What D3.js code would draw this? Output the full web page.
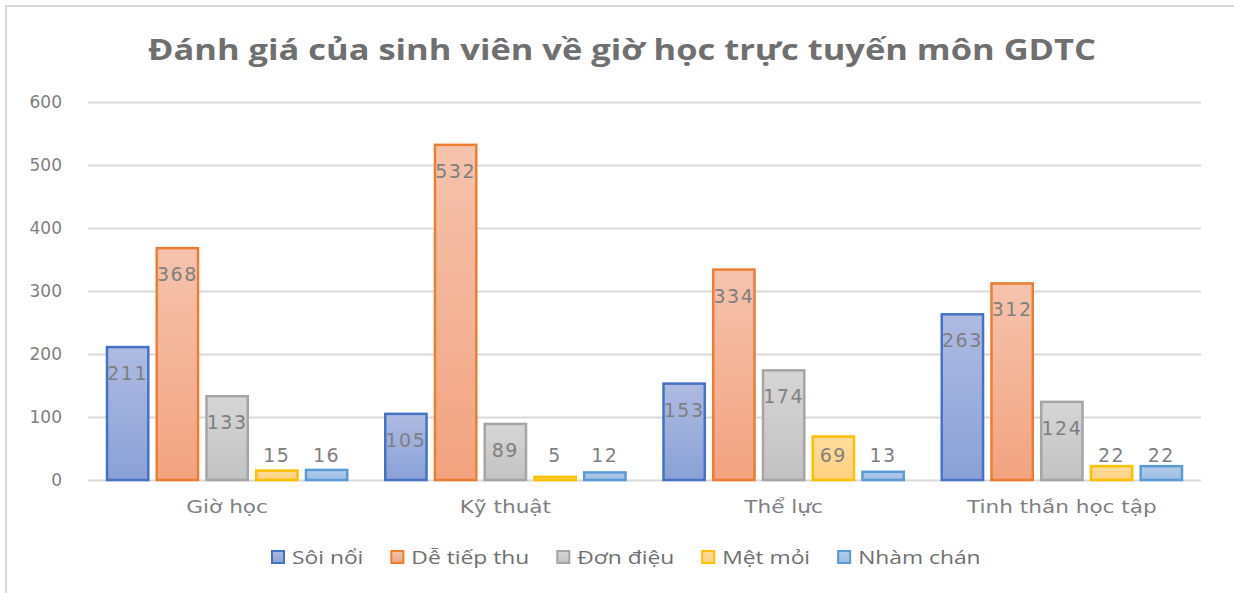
<!DOCTYPE html>
<html>
<head>
<meta charset="utf-8">
<script src="https://cdn.jsdelivr.net/npm/d3@7"></script>
<style>
  body { margin: 0; background: #fff; }
  svg { display: block; }
</style>
</head>
<body>
<div id="chart"></div>
<script>
// data
const categories = ['Giờ học', 'Kỹ thuật', 'Thể lực', 'Tinh thần học tập']
const seriesNames = ['Sôi nổi', 'Dễ tiếp thu', 'Đơn điệu', 'Mệt mỏi', 'Nhàm chán']
const soiNoi = [211, 105, 153, 263]
const deTiepThu = [368, 532, 334, 312]
const donDieu = [133, 89, 174, 124]
const metMoi = [15, 5, 69, 22]
const nhamChan = [16, 12, 13, 22]
const yTicks = [0, 100, 200, 300, 400, 500, 600]
const title = 'Đánh giá của sinh viên về giờ học trực tuyến môn GDTC'

const seriesValues = [soiNoi, deTiepThu, donDieu, metMoi, nhamChan]

// colours: stroke, gradient top, gradient bottom
const strokes = ['#4472c4', '#ed7d31', '#a5a5a5', '#ffc000', '#5b9bd5']
const topFill = ['#aebbe2', '#f5c3ad', '#d6d6d6', '#ffdc9e', '#b3cbea']
const botFill = ['#8aa1d6', '#f2a380', '#c2c2c2', '#ffd07e', '#9dbde5']

const W = 1234, H = 593
const margin = { left: 88, right: 33, top: 102, bottom: 113 }
const width = W - margin.left - margin.right
const height = H - margin.top - margin.bottom

// the source rendering is a bit stretched sideways
const stretch = 1.2
function widen(sel) {
    sel.each(function () {
        const len = this.getComputedTextLength()
        this.__w = len * stretch
        d3.select(this)
            .attr('textLength', len * stretch)
            .attr('lengthAdjust', 'spacingAndGlyphs')
    })
}

const svg = d3.select('#chart').append('svg')
    .attr('width', W)
    .attr('height', H)

// gradients
const defs = svg.append('defs')
seriesNames.forEach((s, i) => {
    const g = defs.append('linearGradient')
        .attr('id', 'grad' + i)
        .attr('x1', 0).attr('y1', 0).attr('x2', 0).attr('y2', 1)
    g.append('stop').attr('offset', '0%').attr('stop-color', topFill[i])
    g.append('stop').attr('offset', '100%').attr('stop-color', botFill[i])
})

// frame
svg.append('path')
    .attr('d', `M6,${H} V6 H${W}`)
    .attr('fill', 'none')
    .attr('stroke', '#d9d9d9')
    .attr('stroke-width', 2)

// title
svg.append('text')
    .attr('x', 622)
    .attr('y', 60)
    .attr('text-anchor', 'middle')
    .attr('font-family', 'Open Sans')
    .attr('font-weight', 'bold')
    .attr('font-size', 29)
    .attr('fill', '#6f6f6f')
    .attr('textLength', 948)
    .attr('lengthAdjust', 'spacingAndGlyphs')
    .text(title)

const g = svg.append('g')
    .attr('transform', `translate(${margin.left},${margin.top})`)

////////////// scales //////////////
const x0 = d3.scaleBand()
    .domain(categories)
    .range([0, width])
    .paddingInner(0)
    .paddingOuter(0)

const x1 = d3.scaleBand()
    .domain(seriesNames)
    .range([19, x0.bandwidth() - 19])
    .paddingInner(0.17)
    .paddingOuter(0)

const y = d3.scaleLinear()
    .domain([0, 600])
    .range([height, 0])

////////////// grid + axis //////////////
g.append('g')
    .attr('class', 'grid')
    .call(d3.axisLeft(y).tickValues(yTicks).tickSize(-width).tickFormat(''))
    .call(a => a.select('.domain').remove())
    .call(a => a.selectAll('line').attr('stroke', '#d9d9d9').attr('stroke-width', 2))

g.selectAll('.ytick')
    .data(yTicks)
    .join('text')
    .attr('class', 'ytick')
    .attr('x', -26)
    .attr('y', d => y(d))
    .attr('dy', '0.36em')
    .attr('text-anchor', 'end')
    .attr('font-family', 'DejaVu Sans')
    .attr('font-size', 17)
    .attr('fill', '#7f7f7f')
    .text(d => d)

g.selectAll('.xtick')
    .data(categories)
    .join('text')
    .attr('class', 'xtick')
    .attr('x', d => x0(d) + x0.bandwidth() / 2)
    .attr('y', height + 33)
    .attr('text-anchor', 'middle')
    .attr('font-family', 'DejaVu Sans')
    .attr('font-size', 18)
    .attr('fill', '#7f7f7f')
    .text(d => d)
    .call(widen)

////////////// bars //////////////
const cells = []
categories.forEach((c, ci) => {
    seriesNames.forEach((s, si) => {
        cells.push({ cat: c, series: s, si: si, value: seriesValues[si][ci] })
    })
})

g.append('g')
    .selectAll('rect')
    .data(cells)
    .join('rect')
    .attr('x', d => x0(d.cat) + x1(d.series))
    .attr('y', d => y(d.value))
    .attr('width', x1.bandwidth())
    .attr('height', d => height - y(d.value))
    .attr('fill', d => `url(#grad${d.si})`)
    .attr('stroke', d => strokes[d.si])
    .attr('stroke-width', 2.5)

// value labels: near the top inside the bar, but never lower than a floor line
g.append('g')
    .selectAll('text')
    .data(cells)
    .join('text')
    .attr('x', d => x0(d.cat) + x1(d.series) + x1.bandwidth() / 2)
    .attr('y', d => Math.min(y(d.value) + 33, height - 18))
    .attr('text-anchor', 'middle')
    .attr('font-family', 'DejaVu Sans')
    .attr('font-size', 19)
    .attr('letter-spacing', 1.5)
    .attr('fill', '#7f7f7f')
    .text(d => d.value)

////////////// legend //////////////
const legend = svg.append('g')
    .attr('transform', 'translate(0,557)')

let lx = 272
seriesNames.forEach((s, i) => {
    const item = legend.append('g').attr('transform', `translate(${lx},0)`)
    item.append('rect')
        .attr('x', 0)
        .attr('y', -6)
        .attr('width', 12)
        .attr('height', 12)
        .attr('fill', `url(#grad${i})`)
        .attr('stroke', strokes[i])
        .attr('stroke-width', 2)
    const t = item.append('text')
        .attr('x', 20)
        .attr('y', 0)
        .attr('dy', '0.36em')
        .attr('font-family', 'Open Sans')
        .attr('font-size', 19)
        .attr('fill', '#6f6f6f')
        .text(s)
        .call(widen)
    lx += 20 + t.node().__w + 28
})
</script>
</body>
</html>
